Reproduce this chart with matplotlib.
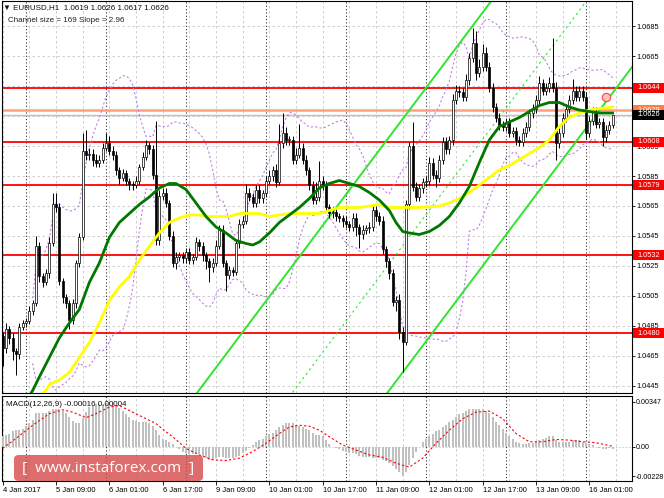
import numpy as np
import pandas as pd
import matplotlib.pyplot as plt
import matplotlib.transforms as mtransforms
from matplotlib.patches import Rectangle, FancyBboxPatch

plt.rcParams['font.family'] = ['Liberation Sans', 'DejaVu Sans']

# EURUSD H1 closes, 4 Jan 17:00 ... 16 Jan 08:00
close_04 = [1.0470, 1.0483, 1.0477, 1.0468, 1.0466, 1.0484, 1.0487]
close_05 = [1.0488, 1.0495, 1.0500, 1.0538, 1.0518, 1.0514, 1.0520, 1.0540, 1.0566, 1.0564, 1.0515, 1.0504,
            1.0500, 1.0489, 1.0500, 1.0527, 1.0544, 1.0602, 1.0599, 1.0600, 1.0596, 1.0594, 1.0596, 1.0604]
close_06 = [1.0607, 1.0602, 1.0599, 1.0589, 1.0584, 1.0587, 1.0582, 1.0580, 1.0579, 1.0582, 1.0591, 1.0598,
            1.0606, 1.0603, 1.0586, 1.0542, 1.0572, 1.0574, 1.0567, 1.0545, 1.0527, 1.0531, 1.0532, 1.0530]
close_09 = [1.0534, 1.0529, 1.0531, 1.0541, 1.0538, 1.0532, 1.0528, 1.0524, 1.0527, 1.0538, 1.0549, 1.0527,
            1.0519, 1.0522, 1.0521, 1.0540, 1.0553, 1.0555, 1.0574, 1.0571, 1.0567, 1.0576, 1.0570, 1.0574]
close_10 = [1.0582, 1.0585, 1.0589, 1.0581, 1.0607, 1.0614, 1.0609, 1.0609, 1.0596, 1.0599, 1.0604, 1.0596,
            1.0589, 1.0579, 1.0569, 1.0571, 1.0582, 1.0579, 1.0564, 1.0560, 1.0561, 1.0558, 1.0557, 1.0555]
close_11 = [1.0553, 1.0551, 1.0557, 1.0551, 1.0546, 1.0549, 1.0550, 1.0551, 1.0562, 1.0558, 1.0555, 1.0536,
            1.0528, 1.0520, 1.0501, 1.0502, 1.0481, 1.0474, 1.0566, 1.0605, 1.0578, 1.0571, 1.0577, 1.0581]
close_12 = [1.0582, 1.0594, 1.0586, 1.0584, 1.0596, 1.0608, 1.0603, 1.0609, 1.0636, 1.0642, 1.0641, 1.0638,
            1.0649, 1.0664, 1.0674, 1.0654, 1.0658, 1.0667, 1.0658, 1.0644, 1.0631, 1.0624, 1.0619, 1.0618]
close_13 = [1.0621, 1.0614, 1.0615, 1.0609, 1.0608, 1.0614, 1.0618, 1.0627, 1.0630, 1.0636, 1.0647, 1.0642,
            1.0644, 1.0647, 1.0644, 1.0607, 1.0614, 1.0624, 1.0630, 1.0636, 1.0642, 1.0638, 1.0642, 1.0638]
close_16 = [1.0614, 1.0622, 1.0628, 1.0620, 1.0621, 1.0611, 1.0616, 1.0619, 1.0626]
first_open = 1.0478

# wicks in pips above / below the body
wick_up = ([3, 4, 2, 3, 2, 3, 2] +
           [2, 3, 2, 7, 3, 2, 3, 4, 8, 8, 3, 2, 2, 2, 3, 2, 3, 12, 14, 4, 3, 4, 3, 3] +
           [7, 5, 3, 3, 2, 3, 2, 2, 2, 3, 2, 3, 3, 2, 3, 36, 4, 3, 3, 2, 3, 3, 2, 2] +
           [3, 3, 2, 3, 2, 3, 2, 2, 3, 4, 3, 3, 2, 3, 2, 3, 3, 3, 6, 3, 3, 3, 3, 2] +
           [3, 4, 3, 4, 13, 13, 4, 3, 3, 5, 16, 3, 3, 2, 3, 10, 13, 3, 3, 2, 3, 2, 2, 2] +
           [3, 2, 3, 3, 2, 3, 2, 3, 3, 3, 3, 3, 2, 2, 3, 3, 4, 3, 3, 3, 16, 3, 3, 3] +
           [3, 4, 3, 3, 3, 3, 3, 3, 4, 4, 3, 3, 4, 3, 10, 8, 5, 6, 4, 3, 3, 3, 3, 3] +
           [3, 3, 3, 3, 3, 3, 3, 3, 3, 3, 5, 3, 3, 4, 30, 4, 3, 3, 3, 3, 8, 3, 3, 3] +
           [3, 3, 3, 3, 3, 3, 3, 3, 0])
wick_lo = ([12, 3, 4, 6, 14, 3, 2] +
           [3, 2, 3, 2, 4, 3, 2, 3, 2, 3, 3, 4, 3, 6, 3, 3, 3, 2, 3, 3, 4, 3, 3, 2] +
           [2, 3, 3, 3, 4, 2, 3, 4, 3, 2, 2, 2, 2, 3, 3, 3, 3, 3, 3, 3, 3, 4, 3, 3] +
           [3, 3, 3, 2, 3, 4, 5, 10, 3, 2, 2, 3, 11, 3, 3, 2, 3, 3, 2, 3, 3, 3, 3, 3] +
           [3, 2, 3, 3, 2, 3, 3, 3, 3, 3, 2, 3, 3, 3, 3, 3, 3, 3, 3, 3, 3, 3, 3, 4] +
           [3, 3, 3, 6, 9, 3, 3, 3, 3, 3, 3, 3, 4, 4, 3, 6, 5, 20, 2, 3, 3, 3, 3, 3] +
           [3, 3, 3, 6, 3, 3, 3, 3, 3, 3, 3, 3, 3, 3, 3, 5, 3, 3, 3, 3, 3, 3, 3, 3] +
           [3, 3, 3, 3, 3, 3, 3, 3, 3, 3, 3, 3, 3, 3, 3, 11, 3, 3, 3, 3, 3, 3, 3, 3] +
           [4, 3, 3, 3, 3, 6, 3, 3, 2])

# moving averages (bar index, price)
ma_green_bars = [8, 9, 11, 14, 17, 20, 23, 26, 29, 32, 35, 38, 41, 44, 47, 50, 52, 55, 58, 61, 64, 67, 70, 73,
                 75, 77, 80, 83, 86, 89, 92, 95, 98, 101, 104, 107, 110, 113, 116, 118, 120, 122, 125, 128,
                 131, 134, 137, 140, 143, 146, 149, 152, 155, 158, 161, 164, 167, 170, 173, 176, 179, 183]
ma_green = [1.0438, 1.0442, 1.0451, 1.0464, 1.0477, 1.0487, 1.0496, 1.0514, 1.0527, 1.0544, 1.0554, 1.0560,
            1.0566, 1.0571, 1.0577, 1.0580, 1.0580, 1.0576, 1.0567, 1.0558, 1.0551, 1.0547, 1.0542, 1.0540,
            1.0539, 1.0541, 1.0547, 1.0554, 1.0559, 1.0564, 1.0570, 1.0577, 1.0580, 1.0582, 1.0580, 1.0578,
            1.0574, 1.0569, 1.0562, 1.0554, 1.0548, 1.0547, 1.0546, 1.0548, 1.0552, 1.0558, 1.0567, 1.0578,
            1.0594, 1.0609, 1.0618, 1.0621, 1.0624, 1.0628, 1.0632, 1.0634, 1.0634, 1.0631, 1.0629, 1.0628,
            1.0627, 1.0627]
ma_yellow_bars = [11, 13, 14, 17, 20, 23, 26, 29, 32, 35, 38, 41, 44, 47, 50, 53, 56, 59, 62, 65, 68, 71, 74,
                  77, 80, 83, 86, 89, 92, 95, 98, 101, 107, 113, 116, 119, 125, 131, 134, 137, 140, 143, 146,
                  149, 152, 155, 158, 161, 164, 167, 170, 173, 176, 179, 183]
ma_yellow = [1.0438, 1.0442, 1.0446, 1.0449, 1.0454, 1.0464, 1.0474, 1.0487, 1.0502, 1.0511, 1.0518, 1.0529,
             1.0538, 1.0547, 1.0554, 1.0557, 1.0559, 1.0559, 1.0558, 1.0558, 1.0558, 1.0560, 1.0560, 1.0560,
             1.0558, 1.0559, 1.0560, 1.0560, 1.0560, 1.0560, 1.0562, 1.0564, 1.0564, 1.0566, 1.0564, 1.0564,
             1.0564, 1.0565, 1.0567, 1.0570, 1.0574, 1.0579, 1.0584, 1.0589, 1.0592, 1.0596, 1.0600, 1.0604,
             1.0609, 1.0618, 1.0624, 1.0627, 1.0629, 1.0630, 1.0631]

# MACD(12,26,9) histogram, one value per bar
macd_hist = ([0.0008, 0.0009, 0.0010, 0.0012, 0.0013, 0.0013, 0.0014] +
             [0.0016, 0.0018, 0.0021, 0.0026, 0.0026, 0.0026, 0.0026, 0.0028, 0.0029, 0.0029, 0.0029, 0.0028,
              0.0026, 0.0023, 0.0020, 0.0018, 0.0018, 0.0022, 0.0027, 0.0031, 0.0032, 0.0033, 0.0033, 0.0033] +
             [0.0034, 0.00347, 0.0034, 0.0032, 0.0030, 0.0028, 0.0025, 0.0023, 0.0021, 0.0020, 0.0019, 0.0019,
              0.0019, 0.0018, 0.0016, 0.0013, 0.0009, 0.0006, 0.0005, 0.0004, 0.0002, 0.0000, -0.0002, -0.0004] +
             [-0.0005, -0.0006, -0.0006, -0.0005, -0.0006, -0.0007, -0.0009, -0.0010, -0.0010, -0.0009,
              -0.0008, -0.0008, -0.0009, -0.0009, -0.0009, -0.0008, -0.0007, -0.0005, -0.0003, -0.0001,
              0.0001, 0.0004, 0.0005, 0.0006] +
             [0.0008, 0.0010, 0.0011, 0.0013, 0.0015, 0.0017, 0.0018, 0.0018, 0.0018, 0.0017, 0.0016, 0.0015,
              0.0014, 0.0013, 0.0011, 0.0009, 0.0009, 0.0008, 0.0005, 0.0002, 0.0000, -0.0001, -0.0002, -0.0003] +
             [-0.0004, -0.0005, -0.0005, -0.0006, -0.0007, -0.0008, -0.0008, -0.0008, -0.0009, -0.0009,
              -0.0009, -0.0010, -0.0011, -0.0013, -0.0015, -0.0017, -0.0020, -0.00228, -0.0020, -0.0014,
              -0.0009, -0.0004, 0.0000, 0.0004] +
             [0.0006, 0.0008, 0.0010, 0.0012, 0.0013, 0.0015, 0.0017, 0.0019, 0.0021, 0.0023, 0.0025, 0.0026,
              0.0028, 0.0029, 0.0029, 0.0029, 0.0029, 0.0029, 0.0028, 0.0026, 0.0023, 0.0019, 0.0017, 0.0014] +
             [0.0011, 0.0008, 0.0006, 0.0004, 0.0003, 0.0002, 0.0002, 0.0003, 0.0003, 0.0004, 0.0005, 0.0006,
              0.0007, 0.0008, 0.0008, 0.0005, 0.0004, 0.0004, 0.0004, 0.0004, 0.0005, 0.0005, 0.0005, 0.0004] +
             [0.0003, 0.0002, 0.0001, 0.0000, -0.0001, -0.0002, -0.0002, -0.0001, -0.00016])
signal_bars = [0, 4, 9, 14, 18, 21, 25, 28, 32, 35, 39, 43, 46, 49, 51, 55, 59, 63, 67, 71, 75, 79, 83, 86,
               89, 92, 95, 98, 102, 106, 110, 114, 118, 122, 126, 130, 134, 138, 142, 146, 150, 154, 158,
               162, 166, 170, 174, 178, 183]
signal = [-0.00013, 0.00064, 0.00166, 0.00256, 0.00286, 0.00268, 0.00225, 0.00256, 0.00307, 0.00319,
          0.00268, 0.00217, 0.00179, 0.00115, 0.00077, -0.00013, -0.00064, -0.00102, -0.00107, -0.00089,
          -0.00038, 0.00026, 0.00102, 0.00153, 0.00166, 0.00159, 0.00128, 0.00077, 0.00013, -0.00026,
          -0.00064, -0.00082, -0.00128, -0.00158, -0.00089, 0.00026, 0.00128, 0.00217, 0.00268, 0.00276,
          0.00217, 0.00102, 0.00038, 0.00038, 0.00056, 0.00051, 0.00038, 0.00031, 0.00004]

# horizontal levels
red_levels = [1.0644, 1.0608, 1.0579, 1.0532, 1.0480]
orange_level = 1.0629
bid_price = 1.0626

# regression channel
channel_bar = 120
channel_low = 1.0454
channel_slope = 2.96   # pips per bar
channel_size = 169     # pips

time_labels = ['4 Jan 2017', '5 Jan 09:00', '6 Jan 01:00', '6 Jan 17:00', '9 Jan 09:00', '10 Jan 01:00',
               '10 Jan 17:00', '11 Jan 09:00', '12 Jan 01:00', '12 Jan 17:00', '13 Jan 09:00', '16 Jan 01:00']
label_bars = [0, 16, 32, 48, 64, 80, 96, 112, 128, 144, 160, 176]
day_bars = [7, 31, 55, 79, 103, 127, 151, 175]

closes = np.array(close_04 + close_05 + close_06 + close_09 + close_10 + close_11 + close_12 + close_13 + close_16)
opens = np.concatenate([[first_open], closes[:-1]])
highs = np.maximum(opens, closes) + np.array(wick_up) / 10000
lows = np.minimum(opens, closes) - np.array(wick_lo) / 10000
bars = np.arange(len(closes))

cs = pd.Series(closes)
bb_mid = cs.rolling(20, min_periods=10).mean()
bb_std = cs.rolling(20, min_periods=10).std(ddof=0)

W, H = 664, 498
fig = plt.figure(figsize=(6.64, 4.98), dpi=100)
ax = fig.add_axes([2 / W, 105 / H, 630 / W, 392 / H])
axm = fig.add_axes([2 / W, 17 / H, 630 / W, 85 / H])

xlim = (-0.2, 188.8)
for a in (ax, axm):
    a.set_xlim(*xlim)
    for s in a.spines.values():
        s.set_color('black')
        s.set_linewidth(0.8)
    for b in range(0, 189, 8):
        a.axvline(b, color='#c8c8c8', lw=0.6, ls=(0, (3, 3)), zorder=0.5)
    for b in day_bars:
        a.axvline(b - 0.1, color='#303030', lw=0.8, ls=(0, (1, 2)), zorder=0.6)

ax.set_ylim(1.04403, 1.07017)
yt = [round(1.0445 + 0.002 * k, 4) for k in range(13)]
for t in yt:
    ax.axhline(t, color='#c8c8c8', lw=0.6, ls=(0, (3, 3)), zorder=0.5)

# levels
ax.axhline(bid_price, color='#c0c0c0', lw=1.0, zorder=1)
ax.axhline(orange_level, color='#ffa07a', lw=1.8, zorder=1)
for lv in red_levels:
    ax.axhline(lv, color='red', lw=1.3, zorder=1.2)

# channel lines
xs = np.array(xlim)
low_line = channel_low + (xs - channel_bar) * channel_slope / 10000
ax.plot(xs, low_line, color='#2ee62e', lw=1.4, zorder=2)
ax.plot(xs, low_line + channel_size / 10000, color='#2ee62e', lw=1.4, zorder=2)
ax.plot(xs, low_line + channel_size / 20000, color='#2ee62e', lw=0.8, ls=(0, (2, 3)), zorder=2)

# bollinger bands
ax.plot(bars, bb_mid + 2 * bb_std, color='#c080e6', lw=0.8, ls=(0, (2, 2)), zorder=2)
ax.plot(bars, bb_mid - 2 * bb_std, color='#c080e6', lw=0.8, ls=(0, (2, 2)), zorder=2)

# candles
bull = closes >= opens
body_bottom = np.minimum(opens, closes)
body_h = np.maximum(np.abs(closes - opens), 0.00004)
ax.vlines(bars, lows, highs, color='black', lw=0.7, zorder=3)
ax.bar(bars, body_h, bottom=body_bottom, width=0.62,
       color=['white' if b else 'black' for b in bull], edgecolor='black', linewidth=0.5, zorder=4)

# moving averages
ax.plot(ma_yellow_bars, ma_yellow, color='#ffff00', lw=2.0, zorder=5)
ax.plot(ma_green_bars, ma_green, color='#007800', lw=2.0, zorder=5)

ax.plot(181, 1.0638, marker='o', ms=6, mfc='#ffc0c0', mec='#ff5050', mew=0.9, zorder=6)

ax.yaxis.tick_right()
ax.set_yticks(yt)
ax.set_yticklabels([f'{t:.4f}' for t in yt])
ax.tick_params(axis='y', labelsize=5.3, length=2, pad=1.5, width=0.6)
ax.tick_params(axis='x', bottom=False, labelbottom=False)

trans = mtransforms.blended_transform_factory(ax.transAxes, ax.transData)
bh = 10 / 15000


def price_box(val, text, fc):
    ax.add_patch(Rectangle((1.0015, val - bh / 2), 0.05, bh, transform=trans, fc=fc, ec='none',
                           clip_on=False, zorder=10))
    ax.text(1.0265, val, text, transform=trans, ha='center', va='center', color='white',
            fontsize=5.3, clip_on=False, zorder=11)


price_box(orange_level, '1.0629', '#ff7f40')
for lv in red_levels:
    price_box(lv, f'{lv:.4f}', 'red')
price_box(bid_price, '1.0626', 'black')

# MACD panel
axm.set_ylim(-0.00266, 0.00393)
axm.axhline(0, color='#c8c8c8', lw=0.6, ls=(0, (2, 2)), zorder=0.5)
axm.bar(bars, macd_hist, width=0.6, color='#c0c0c0', zorder=3)
axm.plot(signal_bars, signal, color='red', lw=0.8, ls=(0, (2, 2)), zorder=4)
axm.yaxis.tick_right()
axm.set_yticks([-0.00228, 0.0, 0.00347])
axm.set_yticklabels(['-0.00228', '0.00', '0.00347'])
axm.tick_params(axis='y', labelsize=5.1, length=2, pad=1, width=0.6)
axm.set_xticks(label_bars)
axm.set_xticklabels(time_labels, ha='left')
axm.tick_params(axis='x', labelsize=5.5, length=3, pad=1.5, width=0.6)

fig.text(3 / W, 1 - 8 / H, '\u25bc EURUSD,H1  1.0619 1.0626 1.0617 1.0626', fontsize=5.8,
         va='center', color='#101010')
fig.text(8 / W, 1 - 20 / H, 'Channel size = 169 Slope = 2.96', fontsize=5.8, va='center', color='#202020')
fig.text(6 / W, 1 - 404 / H, 'MACD(12,26,9) -0.00016 0.00004', fontsize=5.8, va='center', color='#101010')

# watermark
wm = FancyBboxPatch((14 / W, 1 - 481 / H), 189 / W, 26 / H, boxstyle='round,pad=0,rounding_size=0.008',
                    transform=fig.transFigure, fc='#d64848', ec='none', alpha=0.8, zorder=20)
fig.add_artist(wm)
fig.text(108 / W, 1 - 468 / H, '[  www.instaforex.com  ]', fontsize=11, color='white', family='Open Sans',
         ha='center', va='center', zorder=21)

fig.savefig('out.png', dpi=100)
